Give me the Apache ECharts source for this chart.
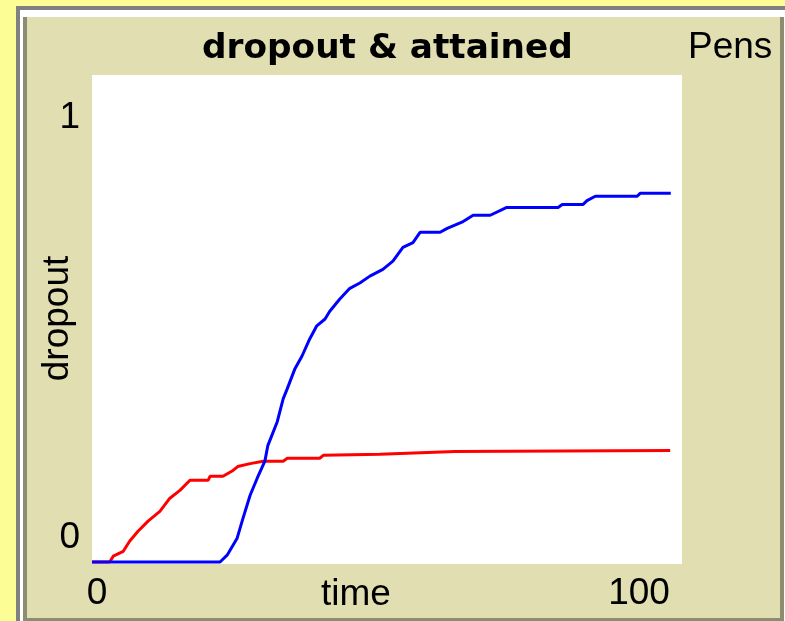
<!DOCTYPE html>
<html>
<head>
<meta charset="utf-8">
<script src="https://cdn.jsdelivr.net/npm/echarts@6/dist/echarts.min.js"></script>
<style>
html,body{margin:0;padding:0;background:#fdfd96;overflow:hidden;}
.f{position:absolute;}
#c{position:absolute;left:0;top:0;width:785px;height:621px;}
</style>
</head>
<body>
<div class="f" style="left:16px;top:6px;width:769px;height:615px;background:#808080"></div>
<div class="f" style="left:20px;top:10px;width:765px;height:611px;background:#ffffff"></div>
<div class="f" style="left:23px;top:17px;width:761px;height:604px;background:#8c8c70"></div>
<div class="f" style="left:27px;top:17px;width:753px;height:601px;background:#e1dfb1"></div>
<div class="f" style="left:92px;top:75px;width:590px;height:489px;background:#ffffff"></div>
<div id="c"></div>
<script>
// ---- data ----
const titleText = 'dropout & attained';
const xName = 'time';
const yName = 'dropout';
const xTicks = [0, 100];
const yTicks = [0, 1];

const dropoutT = [0, 3.0, 3.6, 5.3, 6.4, 7.8, 9.5, 11.5, 13.2, 14.9, 16.6, 19.7, 20.0, 22.2, 23.9, 24.7, 26.8, 29.0, 32.4, 33.1, 38.6, 39.2, 48.8, 61.5, 98.0];
const dropoutV = [0, 0, 0.012, 0.022, 0.043, 0.063, 0.084, 0.104, 0.131, 0.147, 0.168, 0.168, 0.176, 0.176, 0.188, 0.196, 0.202, 0.207, 0.207, 0.213, 0.213, 0.219, 0.221, 0.227, 0.229];

const attainedT = [0, 21.7, 22.9, 24.6, 25.6, 26.8, 28.0, 29.3, 29.8, 31.4, 32.4, 33.1, 34.4, 35.6, 36.9, 38.1, 39.5, 40.3, 42.0, 43.7, 45.4, 47.1, 49.3, 51.0, 52.7, 54.4, 55.6, 59.0, 60.2, 62.9, 64.6, 67.5, 70.3, 79.0, 79.7, 83.2, 83.9, 85.3, 92.4, 92.9, 98.1];
const attainedV = [0, 0, 0.014, 0.049, 0.090, 0.137, 0.172, 0.207, 0.239, 0.288, 0.335, 0.356, 0.397, 0.423, 0.458, 0.485, 0.499, 0.515, 0.540, 0.562, 0.573, 0.587, 0.601, 0.618, 0.646, 0.656, 0.677, 0.677, 0.685, 0.699, 0.712, 0.712, 0.728, 0.728, 0.734, 0.734, 0.742, 0.751, 0.751, 0.757, 0.757];

const pair = (ts, vs) => ts.map((t, i) => [t, vs[i]]);

const normFont = '"Liberation Sans", Arial, sans-serif';
const chart = echarts.init(document.getElementById('c'), null, {renderer: 'canvas'});
chart.setOption({
  backgroundColor: 'transparent',
  animation: false,
  title: [
    {text: titleText, left: 202, top: 32, padding: 0,
     textStyle: {fontFamily: '"DejaVu Sans", sans-serif', fontWeight: 'bold', fontSize: 34.3, color: '#000'}},
    {text: 'Pens', left: 688, top: 29, padding: 0,
     textStyle: {fontFamily: normFont, fontWeight: 'normal', fontSize: 37, color: '#000'}}
  ],
  grid: {left: 92, top: 75, width: 590, height: 487, show: false, containLabel: false, outerBoundsMode: 'none'},
  xAxis: {
    type: 'value', min: xTicks[0], max: xTicks[xTicks.length - 1], interval: 100,
    name: xName, nameLocation: 'middle', nameGap: 14, nameMoveOverlap: false,
    nameTextStyle: {fontFamily: normFont, fontSize: 37, color: '#000', padding: [0, 62, 0, 0], verticalAlign: 'top'},
    axisLine: {show: false}, axisTick: {show: false}, splitLine: {show: false},
    axisLabel: {
      show: true, margin: 13, fontFamily: normFont, fontSize: 37, color: '#000',
      showMinLabel: true, showMaxLabel: true, hideOverlap: false,
      formatter: v => v === xTicks[0] ? '{l|' + v + '}' : '{r|' + v + '}',
      rich: {
        l: {fontFamily: normFont, fontSize: 37, color: '#000', padding: [0, 0, 0, 10]},
        r: {fontFamily: normFont, fontSize: 37, color: '#000', padding: [0, 86, 0, 0]}
      }
    }
  },
  yAxis: {
    type: 'value', min: yTicks[0], max: yTicks[yTicks.length - 1], interval: 1,
    name: yName, nameLocation: 'middle', nameGap: 16, nameRotate: 90, nameMoveOverlap: false,
    nameTextStyle: {fontFamily: normFont, fontSize: 37, color: '#000'},
    axisLine: {show: false}, axisTick: {show: false}, splitLine: {show: false},
    axisLabel: {
      show: true, margin: 12, fontFamily: normFont, fontSize: 37, color: '#000',
      showMinLabel: true, showMaxLabel: true, hideOverlap: false,
      formatter: v => v === yTicks[1] ? '{t|' + v + '}' : '{b|' + v + '}',
      rich: {
        t: {fontFamily: normFont, fontSize: 37, color: '#000', padding: [86, 0, 0, 0]},
        b: {fontFamily: normFont, fontSize: 37, color: '#000', padding: [0, 0, 48, 0]}
      }
    }
  },
  series: [
    {name: 'dropout', type: 'line', data: pair(dropoutT, dropoutV), showSymbol: false, symbol: 'none',
     clip: false, lineStyle: {color: '#ff0000', width: 3}, itemStyle: {color: '#ff0000'}, z: 2},
    {name: 'attained', type: 'line', data: pair(attainedT, attainedV), showSymbol: false, symbol: 'none',
     clip: false, lineStyle: {color: '#0000ff', width: 3}, itemStyle: {color: '#0000ff'}, z: 3}
  ]
});
</script>
</body>
</html>
